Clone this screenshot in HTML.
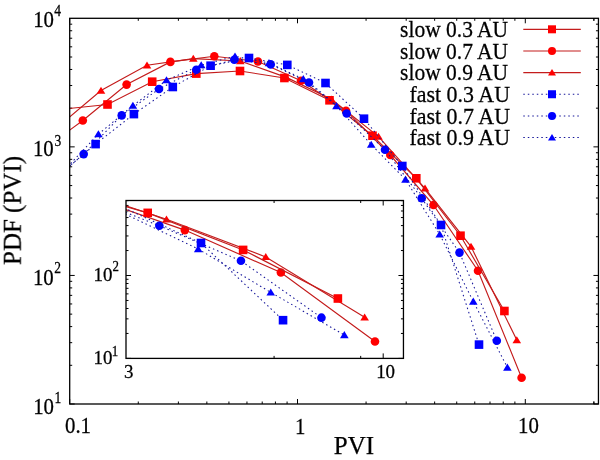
<!DOCTYPE html>
<html><head><meta charset="utf-8"><style>
html,body{margin:0;padding:0;background:#fff;width:600px;height:460px;overflow:hidden}
.t{font-family:"Liberation Serif",serif;fill:#000;stroke:#000;stroke-width:0.25px}
</style></head><body>
<svg width="600" height="460" viewBox="0 0 600 460" style="display:block">
<rect width="600" height="460" fill="#fff"/>
<defs><clipPath id="cm"><rect x="69.70" y="18.30" width="528.75" height="385.70"/></clipPath>
<clipPath id="ci"><rect x="126.00" y="200.50" width="277.45" height="157.90"/></clipPath></defs>
<path d="M69.70,404.00v-5M69.70,18.30v5M138.27,404.00v-2.5M138.27,18.30v2.5M178.39,404.00v-2.5M178.39,18.30v2.5M206.85,404.00v-2.5M206.85,18.30v2.5M228.93,404.00v-2.5M228.93,18.30v2.5M246.96,404.00v-2.5M246.96,18.30v2.5M262.21,404.00v-2.5M262.21,18.30v2.5M275.42,404.00v-2.5M275.42,18.30v2.5M287.08,404.00v-2.5M287.08,18.30v2.5M297.50,404.00v-5M297.50,18.30v5M366.07,404.00v-2.5M366.07,18.30v2.5M406.19,404.00v-2.5M406.19,18.30v2.5M434.65,404.00v-2.5M434.65,18.30v2.5M456.73,404.00v-2.5M456.73,18.30v2.5M474.76,404.00v-2.5M474.76,18.30v2.5M490.01,404.00v-2.5M490.01,18.30v2.5M503.22,404.00v-2.5M503.22,18.30v2.5M514.88,404.00v-2.5M514.88,18.30v2.5M525.30,404.00v-5M525.30,18.30v5M593.87,404.00v-2.5M593.87,18.30v2.5M593.87,404.00v-2.5M593.87,18.30v2.5M69.70,404.01h5M598.45,404.01h-5M69.70,365.31h2.5M598.45,365.31h-2.5M69.70,342.67h2.5M598.45,342.67h-2.5M69.70,326.60h2.5M598.45,326.60h-2.5M69.70,314.14h2.5M598.45,314.14h-2.5M69.70,303.96h2.5M598.45,303.96h-2.5M69.70,295.36h2.5M598.45,295.36h-2.5M69.70,287.90h2.5M598.45,287.90h-2.5M69.70,281.32h2.5M598.45,281.32h-2.5M69.70,275.44h5M598.45,275.44h-5M69.70,236.74h2.5M598.45,236.74h-2.5M69.70,214.10h2.5M598.45,214.10h-2.5M69.70,198.03h2.5M598.45,198.03h-2.5M69.70,185.57h2.5M598.45,185.57h-2.5M69.70,175.39h2.5M598.45,175.39h-2.5M69.70,166.79h2.5M598.45,166.79h-2.5M69.70,159.33h2.5M598.45,159.33h-2.5M69.70,152.75h2.5M598.45,152.75h-2.5M69.70,146.87h5M598.45,146.87h-5M69.70,108.17h2.5M598.45,108.17h-2.5M69.70,85.53h2.5M598.45,85.53h-2.5M69.70,69.46h2.5M598.45,69.46h-2.5M69.70,57.00h2.5M598.45,57.00h-2.5M69.70,46.82h2.5M598.45,46.82h-2.5M69.70,38.22h2.5M598.45,38.22h-2.5M69.70,30.76h2.5M598.45,30.76h-2.5M69.70,24.18h2.5M598.45,24.18h-2.5" stroke="#000" stroke-width="1" fill="none"/>
<path d="M54.80,129.60 L101.00,90.60 L147.00,65.30 L193.30,58.70 L240.30,61.00 L286.40,77.40 L331.50,99.30 L378.50,136.60 L425.00,188.30 L471.00,246.60 L516.80,340.10" fill="none" stroke="#c41c1c" stroke-width="1.15" clip-path="url(#cm)"/>
<polygon points="96.70,93.77 105.30,93.77 101.00,86.72" fill="#ff0000"/>
<polygon points="142.70,68.47 151.30,68.47 147.00,61.42" fill="#ff0000"/>
<polygon points="189.00,61.87 197.60,61.87 193.30,54.82" fill="#ff0000"/>
<polygon points="236.00,64.17 244.60,64.17 240.30,57.12" fill="#ff0000"/>
<polygon points="282.10,80.57 290.70,80.57 286.40,73.52" fill="#ff0000"/>
<polygon points="327.20,102.47 335.80,102.47 331.50,95.42" fill="#ff0000"/>
<polygon points="374.20,139.77 382.80,139.77 378.50,132.72" fill="#ff0000"/>
<polygon points="420.70,191.47 429.30,191.47 425.00,184.42" fill="#ff0000"/>
<polygon points="466.70,249.77 475.30,249.77 471.00,242.72" fill="#ff0000"/>
<polygon points="512.50,343.27 521.10,343.27 516.80,336.22" fill="#ff0000"/>
<path d="M38.90,152.70 L82.80,120.50 L126.60,84.60 L170.40,61.90 L214.30,56.30 L258.00,61.50 L301.00,80.70 L346.00,110.70 L390.30,155.00 L433.50,205.00 L478.00,270.70 L521.60,377.70" fill="none" stroke="#c41c1c" stroke-width="1.15" clip-path="url(#cm)"/>
<circle cx="82.80" cy="120.50" r="4.30" fill="#ff0000"/>
<circle cx="126.60" cy="84.60" r="4.30" fill="#ff0000"/>
<circle cx="170.40" cy="61.90" r="4.30" fill="#ff0000"/>
<circle cx="214.30" cy="56.30" r="4.30" fill="#ff0000"/>
<circle cx="258.00" cy="61.50" r="4.30" fill="#ff0000"/>
<circle cx="301.00" cy="80.70" r="4.30" fill="#ff0000"/>
<circle cx="346.00" cy="110.70" r="4.30" fill="#ff0000"/>
<circle cx="390.30" cy="155.00" r="4.30" fill="#ff0000"/>
<circle cx="433.50" cy="205.00" r="4.30" fill="#ff0000"/>
<circle cx="478.00" cy="270.70" r="4.30" fill="#ff0000"/>
<circle cx="521.60" cy="377.70" r="4.30" fill="#ff0000"/>
<path d="M63.20,109.10 L107.50,104.50 L152.20,81.70 L196.30,73.60 L240.00,71.00 L284.40,78.00 L329.50,100.30 L372.50,135.70 L416.30,178.30 L460.50,235.70 L504.40,311.00" fill="none" stroke="#c41c1c" stroke-width="1.15" clip-path="url(#cm)"/>
<rect x="103.20" y="100.20" width="8.60" height="8.60" fill="#ff0000"/>
<rect x="147.90" y="77.40" width="8.60" height="8.60" fill="#ff0000"/>
<rect x="192.00" y="69.30" width="8.60" height="8.60" fill="#ff0000"/>
<rect x="235.70" y="66.70" width="8.60" height="8.60" fill="#ff0000"/>
<rect x="280.10" y="73.70" width="8.60" height="8.60" fill="#ff0000"/>
<rect x="325.20" y="96.00" width="8.60" height="8.60" fill="#ff0000"/>
<rect x="368.20" y="131.40" width="8.60" height="8.60" fill="#ff0000"/>
<rect x="412.00" y="174.00" width="8.60" height="8.60" fill="#ff0000"/>
<rect x="456.20" y="231.40" width="8.60" height="8.60" fill="#ff0000"/>
<rect x="500.10" y="306.70" width="8.60" height="8.60" fill="#ff0000"/>
<path d="M64.40,170.10 L98.40,134.10 L132.90,105.70 L166.50,80.20 L201.20,65.10 L235.00,56.30 L269.00,63.00 L303.30,79.00 L336.50,106.00 L371.20,144.60 L405.50,179.50 L439.70,234.30 L473.30,301.50 L507.40,367.50" fill="none" stroke="#15159a" stroke-width="1.05" stroke-dasharray="1.5 3.0" clip-path="url(#cm)"/>
<polygon points="94.10,137.27 102.70,137.27 98.40,130.22" fill="#0000ff"/>
<polygon points="128.60,108.87 137.20,108.87 132.90,101.82" fill="#0000ff"/>
<polygon points="162.20,83.37 170.80,83.37 166.50,76.32" fill="#0000ff"/>
<polygon points="196.90,68.27 205.50,68.27 201.20,61.22" fill="#0000ff"/>
<polygon points="230.70,59.47 239.30,59.47 235.00,52.42" fill="#0000ff"/>
<polygon points="264.70,66.17 273.30,66.17 269.00,59.12" fill="#0000ff"/>
<polygon points="299.00,82.17 307.60,82.17 303.30,75.12" fill="#0000ff"/>
<polygon points="332.20,109.17 340.80,109.17 336.50,102.12" fill="#0000ff"/>
<polygon points="366.90,147.77 375.50,147.77 371.20,140.72" fill="#0000ff"/>
<polygon points="401.20,182.67 409.80,182.67 405.50,175.62" fill="#0000ff"/>
<polygon points="435.40,237.47 444.00,237.47 439.70,230.42" fill="#0000ff"/>
<polygon points="469.00,304.67 477.60,304.67 473.30,297.62" fill="#0000ff"/>
<polygon points="503.10,370.67 511.70,370.67 507.40,363.62" fill="#0000ff"/>
<path d="M46.10,186.80 L83.70,154.10 L121.70,115.40 L159.00,89.00 L196.30,69.70 L234.30,59.70 L270.70,64.40 L309.00,82.50 L346.70,113.50 L385.00,149.70 L421.70,198.30 L459.50,252.60 L496.80,340.70" fill="none" stroke="#15159a" stroke-width="1.05" stroke-dasharray="1.5 3.0" clip-path="url(#cm)"/>
<circle cx="83.70" cy="154.10" r="4.30" fill="#0000ff"/>
<circle cx="121.70" cy="115.40" r="4.30" fill="#0000ff"/>
<circle cx="159.00" cy="89.00" r="4.30" fill="#0000ff"/>
<circle cx="196.30" cy="69.70" r="4.30" fill="#0000ff"/>
<circle cx="234.30" cy="59.70" r="4.30" fill="#0000ff"/>
<circle cx="270.70" cy="64.40" r="4.30" fill="#0000ff"/>
<circle cx="309.00" cy="82.50" r="4.30" fill="#0000ff"/>
<circle cx="346.70" cy="113.50" r="4.30" fill="#0000ff"/>
<circle cx="385.00" cy="149.70" r="4.30" fill="#0000ff"/>
<circle cx="421.70" cy="198.30" r="4.30" fill="#0000ff"/>
<circle cx="459.50" cy="252.60" r="4.30" fill="#0000ff"/>
<circle cx="496.80" cy="340.70" r="4.30" fill="#0000ff"/>
<path d="M57.30,176.30 L95.60,144.10 L133.90,114.10 L172.80,87.00 L210.60,65.70 L249.00,58.00 L287.30,64.90 L325.50,83.00 L364.00,118.70 L402.30,166.00 L441.00,225.00 L479.00,344.60" fill="none" stroke="#15159a" stroke-width="1.05" stroke-dasharray="1.5 3.0" clip-path="url(#cm)"/>
<rect x="91.30" y="139.80" width="8.60" height="8.60" fill="#0000ff"/>
<rect x="129.60" y="109.80" width="8.60" height="8.60" fill="#0000ff"/>
<rect x="168.50" y="82.70" width="8.60" height="8.60" fill="#0000ff"/>
<rect x="206.30" y="61.40" width="8.60" height="8.60" fill="#0000ff"/>
<rect x="244.70" y="53.70" width="8.60" height="8.60" fill="#0000ff"/>
<rect x="283.00" y="60.60" width="8.60" height="8.60" fill="#0000ff"/>
<rect x="321.20" y="78.70" width="8.60" height="8.60" fill="#0000ff"/>
<rect x="359.70" y="114.40" width="8.60" height="8.60" fill="#0000ff"/>
<rect x="398.00" y="161.70" width="8.60" height="8.60" fill="#0000ff"/>
<rect x="436.70" y="220.70" width="8.60" height="8.60" fill="#0000ff"/>
<rect x="474.70" y="340.30" width="8.60" height="8.60" fill="#0000ff"/>
<rect x="69.70" y="18.30" width="528.75" height="385.70" fill="none" stroke="#000" stroke-width="1.3"/>
<rect x="126.00" y="200.50" width="277.45" height="157.90" fill="#fff"/>
<path d="M274.08,358.40v-2.5M274.08,200.50v2.5M360.70,358.40v-2.5M360.70,200.50v2.5M383.20,358.40v-5M383.20,200.50v5M126.00,358.40h5M403.45,358.40h-5M126.00,333.44h2.5M403.45,333.44h-2.5M126.00,318.85h2.5M403.45,318.85h-2.5M126.00,308.49h2.5M403.45,308.49h-2.5M126.00,300.46h2.5M403.45,300.46h-2.5M126.00,293.89h2.5M403.45,293.89h-2.5M126.00,288.34h2.5M403.45,288.34h-2.5M126.00,283.53h2.5M403.45,283.53h-2.5M126.00,279.29h2.5M403.45,279.29h-2.5M126.00,275.50h5M403.45,275.50h-5M126.00,250.54h2.5M403.45,250.54h-2.5M126.00,235.95h2.5M403.45,235.95h-2.5M126.00,225.59h2.5M403.45,225.59h-2.5M126.00,217.56h2.5M403.45,217.56h-2.5M126.00,210.99h2.5M403.45,210.99h-2.5M126.00,205.44h2.5M403.45,205.44h-2.5M126.00,200.63h2.5M403.45,200.63h-2.5" stroke="#000" stroke-width="1" fill="none"/>
<path d="M-632.61,181.43 L-532.89,156.26 L-433.60,139.93 L-333.66,135.67 L-232.21,137.15 L-132.70,147.74 L-35.35,161.87 L66.11,185.95 L166.48,219.31 L265.77,256.94 L364.63,317.29" fill="none" stroke="#c41c1c" stroke-width="1.15" clip-path="url(#ci)"/>
<polygon points="162.18,222.49 170.78,222.49 166.48,215.44" fill="#ff0000"/>
<polygon points="261.47,260.11 270.07,260.11 265.77,253.06" fill="#ff0000"/>
<polygon points="360.33,320.46 368.93,320.46 364.63,313.41" fill="#ff0000"/>
<path d="M-666.94,196.34 L-572.18,175.55 L-477.63,152.38 L-383.09,137.73 L-288.33,134.12 L-194.00,137.48 L-101.18,149.87 L-4.05,169.23 L91.58,197.82 L184.82,230.09 L280.88,272.50 L374.99,341.55" fill="none" stroke="#c41c1c" stroke-width="1.15" clip-path="url(#ci)"/>
<circle cx="184.82" cy="230.09" r="4.30" fill="#ff0000"/>
<circle cx="280.88" cy="272.50" r="4.30" fill="#ff0000"/>
<circle cx="374.99" cy="341.55" r="4.30" fill="#ff0000"/>
<path d="M-614.48,168.20 L-518.86,165.23 L-422.37,150.51 L-327.18,145.28 L-232.85,143.61 L-137.01,148.12 L-39.66,162.52 L53.15,185.37 L147.70,212.86 L243.11,249.91 L337.87,298.51" fill="none" stroke="#c41c1c" stroke-width="1.15" clip-path="url(#ci)"/>
<rect x="143.40" y="208.56" width="8.60" height="8.60" fill="#ff0000"/>
<rect x="238.81" y="245.61" width="8.60" height="8.60" fill="#ff0000"/>
<rect x="333.57" y="294.21" width="8.60" height="8.60" fill="#ff0000"/>
<path d="M-611.89,207.57 L-538.50,184.33 L-464.03,166.00 L-391.51,149.54 L-316.60,139.80 L-243.65,134.12 L-170.26,138.44 L-96.22,148.77 L-24.55,166.20 L50.35,191.11 L124.39,213.63 L198.21,249.00 L270.73,292.37 L344.34,334.97" fill="none" stroke="#15159a" stroke-width="1.05" stroke-dasharray="1.5 3.0" clip-path="url(#ci)"/>
<polygon points="193.91,252.18 202.51,252.18 198.21,245.12" fill="#0000ff"/>
<polygon points="266.43,295.55 275.03,295.55 270.73,288.50" fill="#0000ff"/>
<polygon points="340.04,338.14 348.64,338.14 344.34,331.09" fill="#0000ff"/>
<path d="M-651.39,218.35 L-570.23,197.24 L-488.21,172.26 L-407.69,155.22 L-327.18,142.77 L-245.16,136.31 L-166.59,139.35 L-83.91,151.03 L-2.54,171.04 L80.14,194.40 L159.35,225.77 L240.95,260.81 L321.46,317.67" fill="none" stroke="#15159a" stroke-width="1.05" stroke-dasharray="1.5 3.0" clip-path="url(#ci)"/>
<circle cx="159.35" cy="225.77" r="4.30" fill="#0000ff"/>
<circle cx="240.95" cy="260.81" r="4.30" fill="#0000ff"/>
<circle cx="321.46" cy="317.67" r="4.30" fill="#0000ff"/>
<path d="M-627.22,211.57 L-544.55,190.79 L-461.87,171.42 L-377.91,153.93 L-296.31,140.19 L-213.43,135.22 L-130.75,139.67 L-48.30,151.35 L34.81,174.39 L117.48,204.92 L201.01,243.00 L283.04,320.19" fill="none" stroke="#15159a" stroke-width="1.05" stroke-dasharray="1.5 3.0" clip-path="url(#ci)"/>
<rect x="196.71" y="238.70" width="8.60" height="8.60" fill="#0000ff"/>
<rect x="278.74" y="315.89" width="8.60" height="8.60" fill="#0000ff"/>
<rect x="126.00" y="200.50" width="277.45" height="157.90" fill="none" stroke="#000" stroke-width="1.3"/>
<path d="M523.3,29.30H580.8" fill="none" stroke="#c41c1c" stroke-width="1.15"/>
<rect x="548.00" y="25.30" width="8.00" height="8.00" fill="#ff0000"/>
<path d="M523.3,50.95H580.8" fill="none" stroke="#c41c1c" stroke-width="1.15"/>
<circle cx="552.00" cy="50.95" r="4.00" fill="#ff0000"/>
<path d="M523.3,72.60H580.8" fill="none" stroke="#c41c1c" stroke-width="1.15"/>
<polygon points="548.00,75.55 556.00,75.55 552.00,68.99" fill="#ff0000"/>
<path d="M523.3,94.25H580.8" fill="none" stroke="#15159a" stroke-width="1.05" stroke-dasharray="1.5 3.0"/>
<rect x="548.00" y="90.25" width="8.00" height="8.00" fill="#0000ff"/>
<path d="M523.3,115.90H580.8" fill="none" stroke="#15159a" stroke-width="1.05" stroke-dasharray="1.5 3.0"/>
<circle cx="552.00" cy="115.90" r="4.00" fill="#0000ff"/>
<path d="M523.3,137.55H580.8" fill="none" stroke="#15159a" stroke-width="1.05" stroke-dasharray="1.5 3.0"/>
<polygon points="548.00,140.50 556.00,140.50 552.00,133.94" fill="#0000ff"/>
<g id="leg0" style="will-change:transform" transform="translate(400.052,36.880) scale(1.0000,1.0600)"><text x="0" y="0" class="t" font-size="21.5">slow 0.3 AU</text></g>
<g id="leg1" style="will-change:transform" transform="translate(400.052,58.690) scale(1.0000,1.0600)"><text x="0" y="0" class="t" font-size="21.5">slow 0.7 AU</text></g>
<g id="leg2" style="will-change:transform" transform="translate(400.052,79.700) scale(1.0000,1.0600)"><text x="0" y="0" class="t" font-size="21.5">slow 0.9 AU</text></g>
<g id="leg3" style="will-change:transform" transform="translate(409.485,102.150) scale(1.0200,1.0600)"><text x="0" y="0" class="t" font-size="21.5">fast 0.3 AU</text></g>
<g id="leg4" style="will-change:transform" transform="translate(409.485,123.960) scale(1.0200,1.0600)"><text x="0" y="0" class="t" font-size="21.5">fast 0.7 AU</text></g>
<g id="leg5" style="will-change:transform" transform="translate(409.485,144.970) scale(1.0200,1.0600)"><text x="0" y="0" class="t" font-size="21.5">fast 0.9 AU</text></g>
<g id="y4" style="will-change:transform" transform="translate(33.160,27.040) scale(0.9700,1.0900)"><text x="0" y="0" class="t" font-size="21.5">10</text></g>
<g id="ye4" style="will-change:transform" transform="translate(54.320,16.360) scale(0.9200,1.1500)"><text x="0" y="0" class="t" font-size="14.7">4</text></g>
<g id="y3" style="will-change:transform" transform="translate(32.920,156.180) scale(0.9700,1.0900)"><text x="0" y="0" class="t" font-size="21.5">10</text></g>
<g id="ye3" style="will-change:transform" transform="translate(54.480,145.660) scale(0.9200,1.1500)"><text x="0" y="0" class="t" font-size="14.7">3</text></g>
<g id="y2" style="will-change:transform" transform="translate(32.920,284.840) scale(0.9700,1.0900)"><text x="0" y="0" class="t" font-size="21.5">10</text></g>
<g id="ye2" style="will-change:transform" transform="translate(54.320,273.500) scale(0.9200,1.1500)"><text x="0" y="0" class="t" font-size="14.7">2</text></g>
<g id="y1" style="will-change:transform" transform="translate(33.160,413.980) scale(0.9700,1.0900)"><text x="0" y="0" class="t" font-size="21.5">10</text></g>
<g id="ye1" style="will-change:transform" transform="translate(54.560,402.520) scale(0.9200,1.1500)"><text x="0" y="0" class="t" font-size="14.7">1</text></g>
<g id="x0" style="will-change:transform" transform="translate(64.980,432.980) scale(0.9700,1.0900)"><text x="0" y="0" class="t" font-size="21.5">0.1</text></g>
<g id="x1" style="will-change:transform" transform="translate(294.920,433.620) scale(0.9700,1.0900)"><text x="0" y="0" class="t" font-size="21.5">1</text></g>
<g id="x2" style="will-change:transform" transform="translate(518.000,433.300) scale(0.9700,1.0900)"><text x="0" y="0" class="t" font-size="21.5">10</text></g>
<g id="xl" style="will-change:transform" transform="translate(333.860,454.240) scale(1.0000,1.0000)"><text x="0" y="0" class="t" font-size="25">PVI</text></g>
<g id="yl" style="will-change:transform" transform="translate(20.720,265.000) rotate(-90) scale(1.0000,1.0000)"><text x="0" y="0" class="t" font-size="25">PDF (PVI)</text></g>
<g id="iy2" style="will-change:transform" transform="translate(93.500,281.060) scale(1.0800,1.1000)"><text x="0" y="0" class="t" font-size="17.5">10</text></g>
<g id="iye2" style="will-change:transform" transform="translate(112.400,271.500) scale(1.0000,1.1000)"><text x="0" y="0" class="t" font-size="12.9">2</text></g>
<g id="iy1" style="will-change:transform" transform="translate(93.500,364.440) scale(1.0800,1.1000)"><text x="0" y="0" class="t" font-size="17.5">10</text></g>
<g id="iye1" style="will-change:transform" transform="translate(111.800,356.300) scale(1.0000,1.1000)"><text x="0" y="0" class="t" font-size="12.9">1</text></g>
<g id="ix0" style="will-change:transform" transform="translate(123.900,378.300) scale(1.0800,1.1000)"><text x="0" y="0" class="t" font-size="17.5">3</text></g>
<g id="ix1" style="will-change:transform" transform="translate(376.160,377.540) scale(1.0800,1.1000)"><text x="0" y="0" class="t" font-size="17.5">10</text></g>
</svg>
</body></html>
